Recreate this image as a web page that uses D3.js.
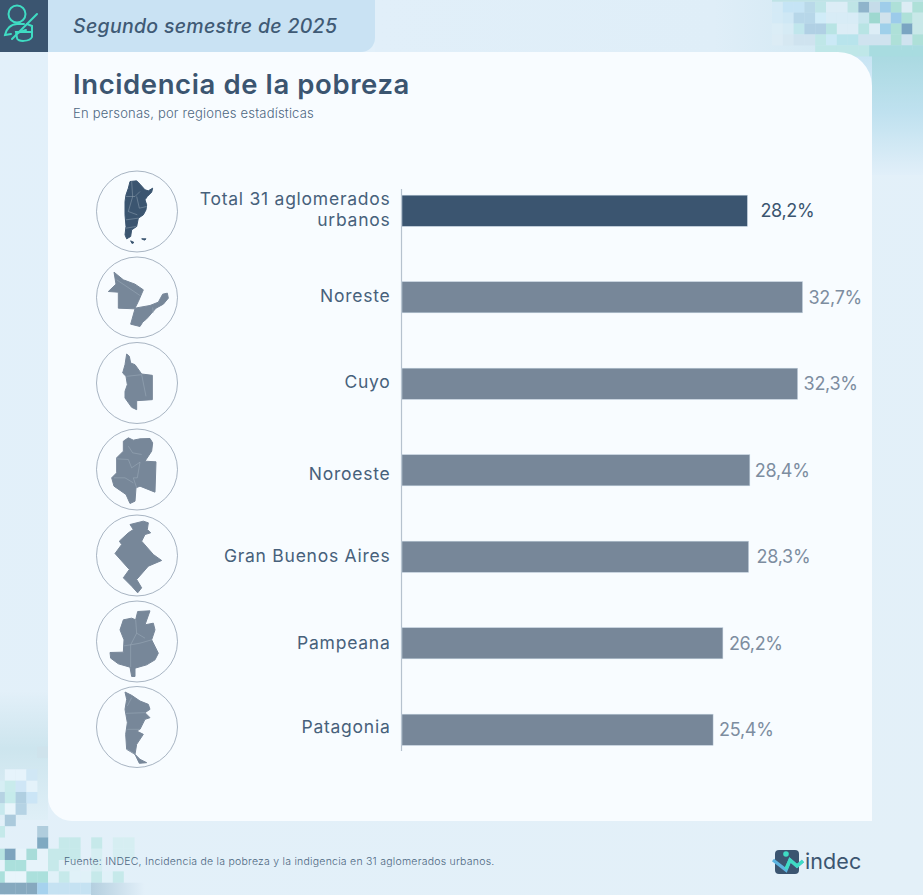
<!DOCTYPE html>
<html><head><meta charset="utf-8">
<script src="https://cdn.jsdelivr.net/npm/d3@7"></script>
<style>html,body{margin:0;padding:0;background:#e3f0f9}svg{display:block}text{font-family:Inter,"Open Sans",sans-serif}</style>
</head><body><div id="c"></div>
<script>
const categories=["Total 31 aglomerados|urbanos","Noreste","Cuyo","Noroeste","Gran Buenos Aires","Pampeana","Patagonia"];
const values=[28.2,32.7,32.3,28.4,28.3,26.2,25.4];
const valueLabels=["28,2%","32,7%","32,3%","28,4%","28,3%","26,2%","25,4%"];
const period="Segundo semestre de 2025";
const title="Incidencia de la pobreza";
const subtitle="En personas, por regiones estadísticas";
const source="Fuente: INDEC, Incidencia de la pobreza y la indigencia en 31 aglomerados urbanos.";

const W=923,H=895;
const svg=d3.select("#c").append("svg").attr("width",W).attr("height",H);
const defs=svg.append("defs");
const grad=(id,x2,y2,stops)=>{const g=defs.append("linearGradient").attr("id",id).attr("x1",0).attr("y1",0).attr("x2",x2).attr("y2",y2);
 stops.forEach(s=>g.append("stop").attr("offset",s[0]).attr("stop-color",s[1]).attr("stop-opacity",s[2]));};
grad("bg",1,1,[[0,"#e2f0fa",1],[1,"#e3f0f8",1]]);
grad("right",0,1,[[0,"#a8d9e0",1],[.5,"#bfe1ef",1],[1,"#e1eff9",1]]);
grad("corner",0,1,[[0,"#c4e3f3",1],[1,"#dcedf8",1]]);
grad("left",0,1,[[0,"#e3f0f9",1],[.45,"#cde5ee",1],[1,"#dfeff7",1]]);
grad("topfade",1,0,[[0,"#e1eff9",1],[.62,"#dfeef8",1],[1,"#c8e4ef",1]]);
grad("botfade",1,0,[[0,"#b4cfdf",1],[1,"#e3f0f9",1]]);

svg.append("rect").attr("width",W).attr("height",H).attr("fill","url(#bg)");
// background strips
svg.append("rect").attr("x",375).attr("y",0).attr("width",548).attr("height",52).attr("fill","url(#topfade)");
svg.append("rect").attr("x",820).attr("y",50).attr("width",52).attr("height",50).attr("fill","url(#corner)");
svg.append("rect").attr("x",872).attr("y",50).attr("width",51).attr("height",125).attr("fill","url(#right)");
svg.append("rect").attr("x",0).attr("y",690).attr("width",48).attr("height",130).attr("fill","url(#left)");

// pixel mosaics (col,row,colour)
const mosaicTop=[[0,0,"#d4eaf6"],[1,0,"#c5e4f5"],[2,0,"#c5e4f5"],[3,0,"#b9d9e9"],[4,0,"#bfe5e8"],[5,0,"#dcedf6"],[6,0,"#dcedf6"],[7,0,"#bfe5e6"],[8,0,"#8fb4cb"],[9,0,"#c5dce9"],[10,0,"#9fcdea"],[11,0,"#aee0d8"],[12,0,"#dcecf4"],[13,0,"#aee0d8"],
[0,1,"#d4eaf6"],[1,1,"#cfe8f5"],[2,1,"#b7d7e9"],[3,1,"#b7d7e9"],[4,1,"#d0ecf8"],[5,1,"#d8ecf6"],[6,1,"#d8ecf6"],[7,1,"#d8ecf6"],[8,1,"#c8e6ee"],[9,1,"#9ed8d0"],[10,1,"#d0e2ec"],[11,1,"#9ccbea"],[12,1,"#aee0d8"],[13,1,"#c8e8e8"],
[0,2,"#dbedf6"],[1,2,"#d6ebf5"],[2,2,"#c0e6ec"],[3,2,"#b0d0e4"],[4,2,"#b0d0e4"],[5,2,"#b8e4e4"],[6,2,"#dcedf6"],[7,2,"#dcedf6"],[8,2,"#b8e4e4"],[9,2,"#dcedf6"],[10,2,"#9fd0ea"],[11,2,"#aee0d8"],[12,2,"#7aa5c2"],[13,2,"#c8e8e8"],
[0,3,"#dcecf5"],[1,3,"#d6e8f2"],[2,3,"#cfe3ef"],[3,3,"#cfe3ef"],[4,3,"#bfe7e8"],[5,3,"#cbe9f6"],[6,3,"#b8e4ec"],[7,3,"#b8e4ec"],[8,3,"#cfe3ef"],[9,3,"#cfe3ef"],[10,3,"#cfe3ef"],[11,3,"#aee0d8"],[12,3,"#cfe3ef"],[13,3,"#aee0d8"],
[4,4,"#bfe7e8"],[5,4,"#bfe7e8"],[6,4,"#bfe7e8"],[7,4,"#bfe7e8"],[8,4,"#bfe7e8"],[9,4,"#a8dce0"],[10,4,"#a8dce0"],[11,4,"#a8dce0"],[12,4,"#a8dce0"],[13,4,"#a8dce0"]];
const mosaicLeft=[[4,-2,"#cfe3ec"],[1,0,"#e6f3fb"],[2,0,"#e6f3fb"],[3,0,"#d0e7f5"],[0,1,"#d6eef4"],[1,1,"#c9ebec"],[2,1,"#cfe6f6"],[3,1,"#e4f2fa"],
[0,2,"#b6d3e3"],[1,2,"#c6ebeb"],[2,2,"#b0cfe1"],[3,2,"#cbe5f6"],[0,3,"#c8e9ee"],[1,3,"#e8f5fb"],[2,3,"#b5d3e4"],
[1,4,"#abcadc"],[0,5,"#c5e9ea"],[4,5,"#b0cddd"],[4,6,"#7fa9c1"],
[6,6,"#c6e9ea"],[7,6,"#c6e9ea"],[9,6,"#c6e9ea"],[11,6,"#d6eef2"],[12,6,"#d6eef2"],
[0,7,"#b7e3e2"],[1,7,"#7da4be"],[2,7,"#e6f3fa"],[3,7,"#a8dcd9"],[4,7,"#e6f3fa"],[5,7,"#c6e9ea"],[6,7,"#c6e9ea"],[7,7,"#c6e9ea"],[9,7,"#d6eef2"],[11,7,"#d6eef2"],[12,7,"#d6eef2"],
[0,8,"#e6f3fa"],[1,8,"#abe0dc"],[2,8,"#abe0dc"],[3,8,"#e6f3fa"],[4,8,"#e6f3fa"],[5,8,"#c6e9ea"],[6,8,"#dff0f7"],[7,8,"#dff0f7"],[9,8,"#d6eef2"],
[0,9,"#abe0dc"],[1,9,"#e8f5fb"],[2,9,"#e8f5fb"],[3,9,"#abe0dc"],[4,9,"#abe0dc"],[5,9,"#e0f1f8"],[6,9,"#c6e9ea"],[7,9,"#e0f1f8"],[8,9,"#e0f1f8"],[9,9,"#c6e9ea"],[10,9,"#e0f1f8"],[11,9,"#c6e9ea"],
[0,10,"#86a9bf"],[1,10,"#86a9bf"],[2,10,"#86a9bf"],[3,10,"#86a9bf"],[4,10,"#a6d2ee"],[5,10,"#c5e2f2"],[6,10,"#c5e2f2"],[7,10,"#c5e2f2"],[8,10,"#c5e2f2"]];
const mosaic=(data,x0,y0,sx,sy)=>svg.append("g").selectAll("rect").data(data).join("rect")
 .attr("x",d=>x0+d[0]*sx).attr("y",d=>y0+d[1]*sy).attr("width",sx+.2).attr("height",sy+.2).attr("fill",d=>d[2]);
mosaic(mosaicTop,772,1.7,10.8,10.9);
mosaic(mosaicLeft,-6,769.3,10.8,11.34);
svg.append("rect").attr("x",91).attr("y",882.7).attr("width",54).attr("height",12.3).attr("fill","url(#botfade)");
svg.append("rect").attr("x",772).attr("y",0).attr("width",151).attr("height",1.7).attr("fill","#bfe3e6");

// card
svg.append("path").attr("fill","#f8fcff")
 .attr("d","M48,52H838A34,34 0 0 1 872,86V821H72A24,24 0 0 1 48,797Z");
// tab and icon block
svg.append("path").attr("fill","#c9e2f3").attr("d","M48,0H375V38A14,14 0 0 1 361,52H48Z");
svg.append("rect").attr("width",48).attr("height",52).attr("fill","#3b5570");
svg.append("g").attr("fill","none").attr("stroke","#3fdcc3").attr("stroke-width",2).attr("stroke-linecap","round")
 .call(g=>{g.append("circle").attr("cx",17).attr("cy",14).attr("r",8.5);
  g.append("path").attr("d","M11,34L5,35C6,29 11,24 17,24L24,24M27,24L32,26V37C30,42 17,42 17,38L16,32H32M17,33L26,30");
  g.append("path").attr("d","M12,39L37,14");});

const text=(x,y,s,size,color,opts={})=>svg.append("text").attr("x",x).attr("y",y).text(s).attr("font-size",size).attr("fill",color)
 .attr("font-weight",opts.w||400).attr("font-style",opts.i||"normal").attr("text-anchor",opts.a||"start").attr("letter-spacing",opts.ls||0);
text(73,32.5,period,19.5,"#3f5a75",{w:500,i:"italic",ls:.3});
text(73,94,title,27.5,"#3b5570",{w:600,ls:.6});
text(73,118,subtitle,13,"#4d6781",{w:300,ls:.2});
text(64,865,source,10.5,"#4d6781",{w:300,ls:.24});

// chart
const x=d3.scaleLinear().domain([0,32.7]).range([402,802.5]);
const y=d3.scaleBand().domain(categories).range([167.5,773]).paddingInner(.64).paddingOuter(.32);
const yc=d=>y(d)+y.bandwidth()/2;
svg.append("line").attr("x1",401.5).attr("x2",401.5).attr("y1",189).attr("y2",751).attr("stroke","#b6c2ce").attr("stroke-width",1.2);
const rows=categories.map((c,i)=>({c,v:values[i],l:valueLabels[i],i}));
svg.append("g").selectAll("rect").data(rows).join("rect")
 .attr("x",x(0)).attr("y",d=>y(d.c)).attr("width",d=>x(d.v)-x(0)).attr("height",y.bandwidth())
 .attr("fill",d=>d.i===0?"#3b5570":"#778799").attr("stroke","#c4d2df").attr("stroke-width",.5);
const labelGap=[13,6,6,5,8,6,6];
const labelShift=[0,2,1,6.5,2,3,0];
svg.append("g").selectAll("text").data(rows).join("text")
 .attr("x",d=>x(d.v)+labelGap[d.i]).attr("y",d=>yc(d.c)+6.5).text(d=>d.l)
 .attr("font-size",18).attr("font-weight",400).attr("letter-spacing",-.3).attr("fill",d=>d.i===0?"#3b5570":"#7d8da0");
svg.append("g").selectAll("text").data(rows).join("text")
 .attr("text-anchor","end").attr("fill","#47617b").attr("font-size",17.5).attr("letter-spacing",.75)
 .each(function(d){const parts=d.c.split("|");const t=d3.select(this);
  parts.forEach((p,k)=>t.append("tspan").attr("x",390.5).attr("y",yc(d.c)+(parts.length>1?-6+k*21:3+labelShift[d.i])).text(p));});

// region map icons
const iconY=[211.5,297.5,383,469.5,555.5,641.5,727];
const shapes=[
 {c:[141,140],p:[["M120,50L140,48L150,58L165,75L175,78L188,70L185,82L172,95L165,105L170,120L168,135L160,150L145,160L140,185L125,195L122,215L110,222L105,210L108,185L105,150L105,110L108,90L115,70Z","M122,228L132,233L126,236Z","M155,222L168,222L164,226Z"]],l:"M108,95L135,95L150,80M125,50L128,95L115,140L142,150M140,95L148,130L170,125M108,165L145,160M108,190L138,185"},
 {c:[141,398],p:[["M72,322L100,345L135,358L160,375L145,410L135,430L180,422L205,412L218,388L232,385L235,400L220,418L198,430L185,445L170,462L158,472L150,485L122,478L135,432L85,430L85,382L55,380L78,358Z"]],l:"M80,345L150,392M188,428L190,445"},
 {c:[141,655],p:[["M110,568L118,575L122,595L135,600L155,628L187,632L187,705L140,708L140,735L125,728L105,700L105,680L112,660L108,635L98,625L105,600Z"]],l:"M110,635L155,630L168,695"},
 {c:[141,130],p:[["M115,35L130,42L150,38L180,37L188,50L185,75L165,105L198,107L195,198L150,180L138,185L135,225L120,232L108,205L72,180L65,155L80,140L80,95L100,75L100,45Z"]],l:"M80,98L115,100L125,125L150,108L142,155L130,155L140,185M72,155L105,155L130,170M115,60L128,80L155,85"},
 {c:[141,388],p:[["M120,295L160,285L175,290L172,310L182,320L165,325L155,345L190,385L215,403L175,420L140,460L155,485L143,500L125,480L100,455L118,430L75,382L95,355L88,345L115,320L130,310Z"]],l:""},
 {c:[141,645],p:[["M143,555L180,553L165,595L190,590L195,610L185,640L205,680L195,700L170,715L135,725L135,750L125,750L120,722L85,712L62,695L60,678L100,677L102,640L90,610L100,580L125,575L137,580Z"]],l:"M102,658L122,655L122,722M122,655L150,650L185,640M137,580L140,620L165,635M140,620L122,655"},
 {c:[141,903],p:[["M105,798L125,808L150,825L175,835L180,850L165,860L180,875L165,880L150,910L140,915L160,925L140,955L135,985L150,1000L170,1010L148,1012L135,985L110,970L107,925L112,890L105,850L110,820Z"]],l:"M108,862L165,860M112,910L150,910M112,840L125,815M135,985L112,970"}
];
const icons=svg.append("g").selectAll("g").data(shapes).join("g")
 .attr("transform",(d,i)=>`translate(137,${iconY[i]}) scale(.3333) translate(${-d.c[0]},${-d.c[1]})`);
icons.append("circle").attr("cx",d=>d.c[0]).attr("cy",d=>d.c[1]).attr("r",121.5).attr("fill","none").attr("stroke","#7f90a3").attr("stroke-width",2);
icons.append("path").attr("d",d=>d.p[0].join("")).attr("fill",(d,i)=>i===0?"#3b5570":"#778799")
 .attr("stroke",(d,i)=>i===0?"#3b5570":"#778799").attr("stroke-width",3).attr("stroke-linejoin","round");
icons.append("path").attr("d",d=>d.l).attr("fill","none").attr("stroke","#a9b8c6").attr("stroke-width",1.2);

// logo
const logo=svg.append("g");
logo.append("rect").attr("x",775).attr("y",850).attr("width",24).attr("height",24).attr("rx",4).attr("fill","#3b5570");
logo.append("path").attr("d","M773,860L786,870L790,860L797,866L803,861").attr("fill","none").attr("stroke","#5cb4e0").attr("stroke-width",3.4);
logo.append("path").attr("d","M786,869L790,860L797,866L803,861").attr("fill","none").attr("stroke","#3fdcc3").attr("stroke-width",3.4);
logo.append("circle").attr("cx",786).attr("cy",854).attr("r",2.8).attr("fill","#3fdcc3");
text(805,869,"indec",21.5,"#3b5570",{w:400,ls:.1});
</script></body></html>
